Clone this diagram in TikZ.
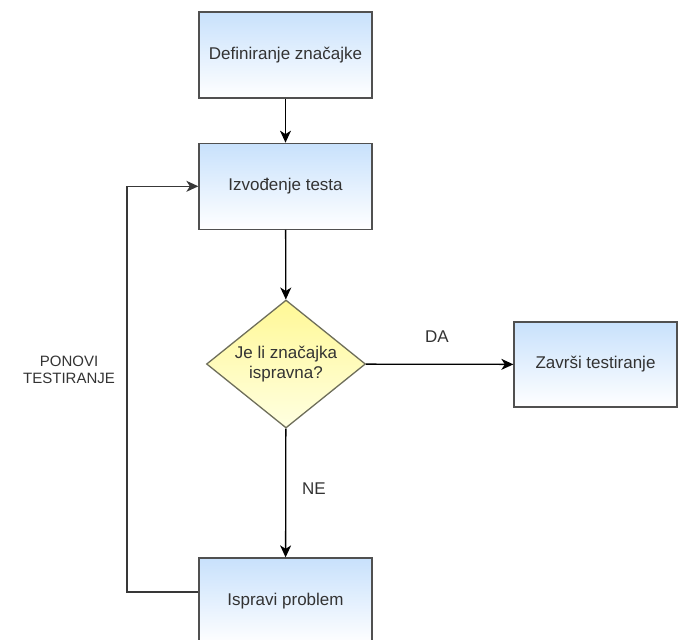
\documentclass[tikz,border=0pt]{standalone}
\usepackage{fontspec}
\setmainfont{Liberation Sans}
\usepackage{xcolor}
\usetikzlibrary{arrows.meta}
\usetikzlibrary{calc}
\usetikzlibrary{positioning}
\usetikzlibrary{shapes.geometric}
\definecolor{rub}{RGB}{80,80,80}
\definecolor{tekst}{RGB}{51,51,51}
\definecolor{plavo}{RGB}{200,225,252}
\definecolor{zuto}{RGB}{255,248,150}
\definecolor{zutosvj}{RGB}{255,255,225}

\begin{document}
\begin{tikzpicture}[x=1pt,y=-1pt,->,>={Stealth[length=12pt,width=11pt,inset=3.5pt]},line width=1.3pt,font=\fontsize{17}{20}\selectfont,text=tekst]
				\tikzstyle{korak}=[draw=rub, rectangle, minimum width=173pt, minimum height=86pt, top color=plavo, bottom color=white, inner sep=2pt]
				\tikzstyle{odluka}=[draw={rgb,255:red,110;green,110;blue,90}, diamond, aspect=1.24, minimum width=159pt, minimum height=128pt, inner sep=0pt, top color=zuto, bottom color=zutosvj, align=center]
				\tikzstyle{oznaka}=[draw=none, fill=none, inner sep=0pt]
				\useasboundingbox (0,0) rectangle (678,640);
				\clip (0,0) rectangle (678,640);
					\node[korak]		(def)	at (285.5,55)		{Definiranje značajke};
					\node[korak]		(izv)	[below=44pt of def]	{Izvođenje testa};
					\node[odluka]		(pit)	at (286,364)		{Je li značajka\\ispravna?};
					\node[korak, minimum width=163pt, minimum height=85pt]	(zav)	at (595.5,364.5)	{Završi testiranje};
					\node[korak]		(isp)	at (285.5,601)		{Ispravi problem};
					\coordinate		(lijevo)	at (127,592);
					\node[oznaka]		(da)	at (437,337)		{DA};
					\node[oznaka]		(ne)	at (314,489)		{NE};
					\node[oznaka, align=center, font=\fontsize{15}{17.5}\selectfont]	(ponovi)	at (69,370)	{PONOVI\\TESTIRANJE};
					\path
								(def) edge (izv)
								(izv) edge (pit)
								(pit) edge (zav)
								(pit) edge (isp);
					\draw[rub!70!black] ($(isp.west)+(0,-9)$) -- (lijevo) |- (izv.west);
\end{tikzpicture}
\end{document}
